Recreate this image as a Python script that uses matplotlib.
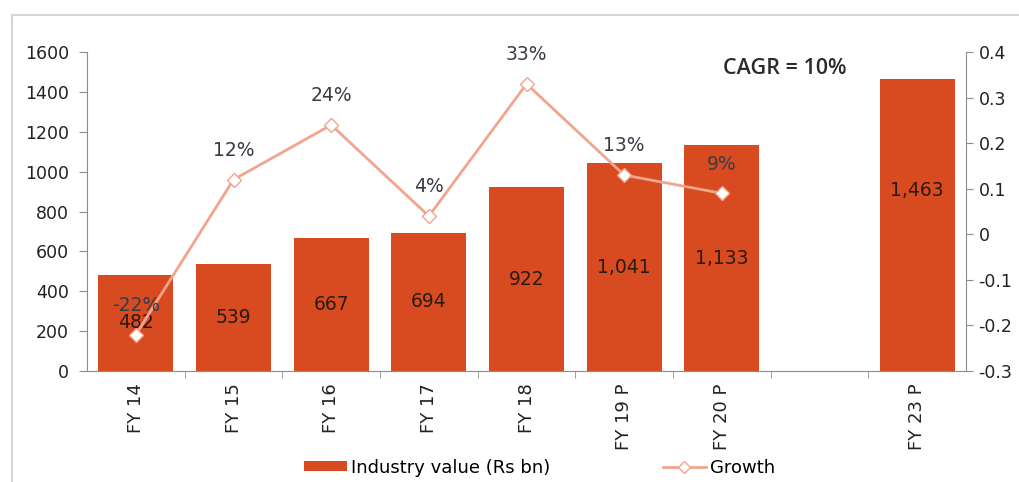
import numpy as np
from matplotlib import pyplot as plt
from matplotlib.lines import Line2D

plt.rcParams['font.family'] = ['DejaVu Sans']

categories = ['FY 14', 'FY 15', 'FY 16', 'FY 17', 'FY 18', 'FY 19 P', 'FY 20 P', '', 'FY 23 P']
industry_value = [482, 539, 667, 694, 922, 1041, 1133, np.nan, 1463]
value_labels = ['482', '539', '667', '694', '922', '1,041', '1,133', '', '1,463']
growth = [-0.22, 0.12, 0.24, 0.04, 0.33, 0.13, 0.09]
growth_labels = ['-22%', '12%', '24%', '4%', '33%', '13%', '9%']

bar_color = '#D84B20'
line_color = '#F2A58C'

fig = plt.figure(figsize=(10.2, 4.82), dpi=100)
ax = fig.add_axes([0.0853, 0.2303, 0.8618, 0.6617])
ax2 = ax.twinx()

x = np.arange(len(categories))
bars = ax.bar(x, industry_value, width=0.77, color=bar_color, zorder=2,
              label='Industry value (Rs bn)')
ax.set_xlim(-0.5, len(categories) - 0.5)
ax.set_ylim(0, 1600)
ax.set_yticks(np.arange(0, 1601, 200))

# value labels in the middle of the bars, the last one sits lower in the original
ax.bar_label(bars, labels=value_labels[:-1] + [''], label_type='center',
             fontsize=13.5, color='#2a1a14')
ax.text(x[-1], 907, value_labels[-1], ha='center', va='center', fontsize=13.5,
        color='#2a1a14', zorder=4)

gx = x[:len(growth)]
ax2.plot(gx, growth, color=line_color, lw=2, marker='D', markersize=7,
         markerfacecolor='white', markeredgecolor=line_color, zorder=3, label='Growth')
ax2.set_ylim(-0.3, 0.4)
ax2.set_yticks(np.arange(-0.3, 0.41, 0.1))
ax2.set_yticklabels(['-0.3', '-0.2', '-0.1', '0', '0.1', '0.2', '0.3', '0.4'])
for xi, g, lab in zip(gx, growth, growth_labels):
    ax2.annotate(lab, (xi, g), xytext=(0, 21), textcoords='offset points',
                 ha='center', va='center', fontsize=13.5, color='#3b3b48')

ax2.text(0.794, 0.95, 'CAGR = 10%', transform=ax.transAxes, ha='center', va='center',
         fontsize=15.5, color='#2b2b2b', family='Open Sans', weight='semibold')

# axes styling
for a in (ax, ax2):
    for s in a.spines.values():
        s.set_color('#8c8c8c')
    a.spines['top'].set_visible(False)
ax.spines['right'].set_visible(False)
ax2.spines['left'].set_visible(False)
ax2.spines['bottom'].set_visible(False)

ax.tick_params(axis='y', labelsize=12.5, colors='#8c8c8c', labelcolor='#222222',
               length=6, pad=7)
ax2.tick_params(axis='y', labelsize=12.5, colors='#8c8c8c', labelcolor='#222222',
                length=5, pad=4)
ax.set_xticks(x)
ax.set_xticklabels(categories, rotation=90, fontsize=13, color='#222222')
ax.tick_params(axis='x', length=0, pad=9)
ax.set_xticks(np.arange(0.5, len(categories) - 0.5, 1), minor=True)
ax.tick_params(axis='x', which='minor', length=5, colors='#8c8c8c')

# legend
handles = [bars, Line2D([], [], color=line_color, lw=2, marker='D', markersize=6,
                        markerfacecolor='white', markeredgecolor=line_color)]
fig.legend(handles, ['Industry value (Rs bn)', 'Growth'], loc='center',
           bbox_to_anchor=(0.529, 0.03), ncol=2, frameon=False, fontsize=13,
           handlelength=2.4, handleheight=0.5, handletextpad=0.25, columnspacing=6.2)

# outer frame of the original screenshot
fig.add_artist(Line2D([12 / 1020, 1.0], [467 / 482, 467 / 482], color='#d6d6d6', lw=1.5))
fig.add_artist(Line2D([12 / 1020, 12 / 1020], [0.0, 467 / 482], color='#d6d6d6', lw=1.5))

fig.savefig('out.png', dpi=100)
